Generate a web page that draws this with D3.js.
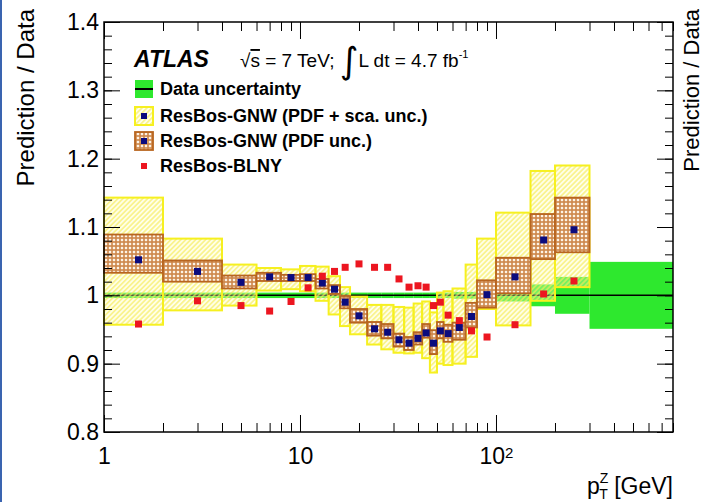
<!DOCTYPE html>
<html>
<head>
<meta charset="utf-8">
<script src="https://cdn.jsdelivr.net/npm/d3@7"></script>
<style>
  body { margin: 0; background: #fff; }
  svg { display: block; font-family: "Liberation Sans", Arial, Helvetica, sans-serif; }
</style>
</head>
<body>
<svg id="chart" width="705" height="502"></svg>
<script>
// pT bin edges [GeV] (first bin shown from 1)
const ptEdges = [1, 2, 4, 6, 8, 10, 12, 14, 16, 18, 22, 26, 30, 34, 38, 42, 46, 50, 54, 60, 70, 80, 100, 150, 200, 300, 800];

// ResBos-GNW / data, one value per bin up to 300 GeV
const gnw      = [1.052, 1.035, 1.019, 1.027, 1.026, 1.026, 1.018, 1.009, 0.990, 0.970, 0.951, 0.946, 0.935, 0.930, 0.937, 0.945, 0.930, 0.948, 0.944, 0.953, 0.969, 1.001, 1.027, 1.081, 1.096];
// PDF uncertainty band
const gnwPdfHi = [1.089, 1.051, 1.029, 1.033, 1.030, 1.031, 1.024, 1.015, 0.999, 0.980, 0.961, 0.958, 0.944, 0.939, 0.946, 0.958, 0.949, 0.961, 0.957, 0.960, 0.989, 1.022, 1.055, 1.119, 1.143];
const gnwPdfLo = [1.033, 1.020, 1.010, 1.021, 1.021, 1.021, 1.010, 1.002, 0.981, 0.960, 0.941, 0.937, 0.925, 0.920, 0.928, 0.938, 0.914, 0.937, 0.932, 0.935, 0.953, 0.982, 1.003, 1.053, 1.063];
// PDF + scale uncertainty band
const gnwTotHi = [1.143, 1.083, 1.045, 1.040, 1.038, 1.043, 1.042, 1.028, 1.012, 0.998, 0.986, 0.986, 0.983, 0.982, 0.988, 0.991, 0.975, 1.004, 1.006, 1.010, 1.045, 1.083, 1.121, 1.182, 1.190];
const gnwTotLo = [0.957, 0.978, 0.985, 1.007, 1.009, 1.006, 0.992, 0.972, 0.955, 0.943, 0.928, 0.921, 0.916, 0.915, 0.916, 0.908, 0.887, 0.900, 0.898, 0.900, 0.910, 0.980, 0.956, 0.992, 1.012];

// ResBos-BLNY / data
const blny = [0.958, 0.992, 0.985, 0.977, 0.991, 1.011, 1.028, 1.035, 1.041, 1.046, 1.041, 1.041, 1.024, 1.012, 1.014, 1.012, 0.985, 0.990, 0.971, 0.963, 0.948, 0.939, 0.957, 1.002, 1.021];

// relative data uncertainty per bin (all 26 bins)
const dataUnc = [0.004, 0.004, 0.004, 0.004, 0.004, 0.004, 0.004, 0.004, 0.004, 0.004, 0.004, 0.004, 0.004, 0.004, 0.004, 0.004, 0.004, 0.004, 0.004, 0.005, 0.005, 0.006, 0.009, 0.016, 0.027, 0.049];

const yMajor = [0.8, 0.9, 1.0, 1.1, 1.2, 1.3, 1.4];
const yLabels = ["0.8", "0.9", "1", "1.1", "1.2", "1.3", "1.4"];
const xMajor = [1, 10, 100];

const margin = { left: 104, top: 22 };
const width = 569, height = 410;

const svg = d3.select("#chart");
svg.append("rect").attr("width", 705).attr("height", 502).attr("fill", "#fff");
svg.append("rect").attr("x", 0).attr("y", 0).attr("width", 2).attr("height", 502).attr("fill", "#3a64b0");

const x = d3.scaleLog().domain([1, 800]).range([0, width]);
const y = d3.scaleLinear().domain([0.8, 1.4]).range([height, 0]);

// fill patterns (ROOT-like hatches)
const defs = svg.append("defs");
const hatch = defs.append("pattern").attr("id", "hatchY")
  .attr("patternUnits", "userSpaceOnUse").attr("width", 3.5).attr("height", 3.5)
  .attr("patternTransform", "rotate(45)");
hatch.append("rect").attr("width", 3.5).attr("height", 3.5).attr("fill", "rgba(255,255,190,0.35)");
hatch.append("line").attr("x1", 1.75).attr("y1", 0).attr("x2", 1.75).attr("y2", 3.5)
  .attr("stroke", "#f6ec5a").attr("stroke-width", 1.1);

const chk = defs.append("pattern").attr("id", "chkB")
  .attr("patternUnits", "userSpaceOnUse").attr("width", 4).attr("height", 4);
chk.append("rect").attr("width", 4).attr("height", 4).attr("fill", "#cd864a");
chk.append("rect").attr("x", 0.8).attr("y", 0.8).attr("width", 2.4).attr("height", 2.4).attr("fill", "#fdf3e6");

const g = svg.append("g").attr("transform", "translate(" + margin.left + "," + margin.top + ")");

const dataBins = dataUnc.map((u, i) => ({ lo: ptEdges[i], hi: ptEdges[i + 1], u: u }));
const bins = gnw.map((v, i) => ({
  lo: ptEdges[i], hi: ptEdges[i + 1], mid: (ptEdges[i] + ptEdges[i + 1]) / 2,
  v: v, pHi: gnwPdfHi[i], pLo: gnwPdfLo[i], tHi: gnwTotHi[i], tLo: gnwTotLo[i], b: blny[i]
}));

// data uncertainty
g.selectAll(".dat").data(dataBins).enter().append("rect")
  .attr("x", d => x(d.lo)).attr("width", d => x(d.hi) - x(d.lo))
  .attr("y", d => y(1 + d.u)).attr("height", d => y(1 - d.u) - y(1 + d.u))
  .attr("fill", "#2ee82e");

g.append("line")
  .attr("x1", x(1)).attr("x2", x(800)).attr("y1", y(1)).attr("y2", y(1))
  .attr("stroke", "#000").attr("stroke-width", 1.5);

// PDF + scale band
g.selectAll(".tot").data(bins).enter().append("rect")
  .attr("x", d => x(d.lo)).attr("width", d => x(d.hi) - x(d.lo))
  .attr("y", d => y(d.tHi)).attr("height", d => y(d.tLo) - y(d.tHi))
  .attr("fill", "url(#hatchY)").attr("stroke", "#f6f020").attr("stroke-width", 2);

// PDF band
g.selectAll(".pdf").data(bins).enter().append("rect")
  .attr("x", d => x(d.lo)).attr("width", d => x(d.hi) - x(d.lo))
  .attr("y", d => y(d.pHi)).attr("height", d => y(d.pLo) - y(d.pHi))
  .attr("fill", "url(#chkB)").attr("stroke", "#b8651f").attr("stroke-width", 1.8);

const ms = 7;
g.selectAll(".gnw").data(bins).enter().append("rect")
  .attr("x", d => x(d.mid) - ms / 2).attr("y", d => y(d.v) - ms / 2)
  .attr("width", ms).attr("height", ms).attr("fill", "#0b0b7e");

g.selectAll(".blny").data(bins).enter().append("rect")
  .attr("x", d => x(d.mid) - ms / 2).attr("y", d => y(d.b) - ms / 2)
  .attr("width", ms).attr("height", ms).attr("fill", "#ec1620");

// axes
const xMinor = [];
[1, 10, 100].forEach(dec => { for (let k = 2; k <= 9; k++) if (dec * k <= 800) xMinor.push(dec * k); });
const yMinor = d3.range(0, 31).map(i => 0.8 + i * 0.02);

function styleAxis(sel) {
  sel.select(".domain").remove();
  sel.selectAll("line").attr("stroke", "#000").attr("stroke-width", 1);
}

g.append("g").attr("transform", "translate(0," + height + ")")
  .call(d3.axisBottom(x).tickValues(xMinor).tickSize(-9).tickFormat(""))
  .call(styleAxis);
const xAx = g.append("g").attr("transform", "translate(0," + height + ")")
  .call(d3.axisBottom(x).tickValues(xMajor).tickSize(-17).tickPadding(16).tickFormat(d => d === 100 ? "10" : String(d)))
  .call(styleAxis);
xAx.selectAll("text").attr("font-size", 23).attr("fill", "#000")
  .attr("font-family", "Liberation Sans, Arial, sans-serif")
  .each(function (d) {
    if (d === 100) d3.select(this).append("tspan").attr("dy", "-0.45em").attr("font-size", 15).text("2");
  });

g.append("g").call(d3.axisTop(x).tickValues(xMinor).tickSize(-9).tickFormat("")).call(styleAxis);
g.append("g").call(d3.axisTop(x).tickValues(xMajor).tickSize(-17).tickFormat("")).call(styleAxis);

g.append("g").call(d3.axisLeft(y).tickValues(yMinor).tickSize(-8).tickFormat("")).call(styleAxis);
const yAx = g.append("g")
  .call(d3.axisLeft(y).tickValues(yMajor).tickSize(-16).tickPadding(5).tickFormat((d, i) => yLabels[i]))
  .call(styleAxis);
yAx.selectAll("text").attr("font-size", 23).attr("fill", "#000")
  .attr("font-family", "Liberation Sans, Arial, sans-serif");

g.append("g").attr("transform", "translate(" + width + ",0)")
  .call(d3.axisRight(y).tickValues(yMinor).tickSize(-8).tickFormat("")).call(styleAxis);
g.append("g").attr("transform", "translate(" + width + ",0)")
  .call(d3.axisRight(y).tickValues(yMajor).tickSize(-16).tickFormat("")).call(styleAxis);

g.append("rect").attr("width", width).attr("height", height)
  .attr("fill", "none").attr("stroke", "#000").attr("stroke-width", 1.5);

// axis titles
svg.append("text").attr("transform", "translate(34,9) rotate(-90)")
  .attr("text-anchor", "end").attr("font-size", 24).text("Prediction / Data");
svg.append("text").attr("transform", "translate(699,9) rotate(-90)")
  .attr("text-anchor", "end").attr("font-size", 22).text("Prediction / Data");

const xt = svg.append("text").attr("x", 673).attr("y", 494).attr("text-anchor", "end").attr("font-size", 23);
xt.append("tspan").text("p");
xt.append("tspan").attr("font-size", 14).attr("dy", -11).text("Z");
xt.append("tspan").attr("font-size", 14).attr("dx", -9).attr("dy", 16).text("T");
xt.append("tspan").attr("dy", -5).text(" [GeV]");

// ATLAS label
svg.append("text").attr("x", 134).attr("y", 67)
  .attr("font-size", 23).attr("font-weight", "bold").attr("font-style", "italic").text("ATLAS");

const lumi = svg.append("text").attr("x", 240).attr("y", 67).attr("font-size", 19);
lumi.append("tspan").text("\u221A");
lumi.append("tspan").style("text-decoration", "overline").text("s");
lumi.append("tspan").text(" = 7 TeV; ");
lumi.append("tspan").attr("font-family", "DejaVu Sans").attr("font-size", 36).attr("dy", 6).text("\u222B");
lumi.append("tspan").attr("font-size", 19).attr("dy", -6).text("L dt = 4.7 fb");
lumi.append("tspan").attr("font-size", 11).attr("dy", -9).text("-1");

// legend
const legRows = [
  { label: "Data uncertainty", y: 89, kind: "data" },
  { label: "ResBos-GNW (PDF + sca. unc.)", y: 116, kind: "tot" },
  { label: "ResBos-GNW (PDF unc.)", y: 141, kind: "pdf" },
  { label: "ResBos-BLNY", y: 166, kind: "blny" }
];
const leg = svg.append("g");
legRows.forEach(r => {
  const bx = 135, bw = 18, bh = 18;
  if (r.kind === "data") {
    leg.append("rect").attr("x", bx).attr("y", r.y - bh / 2).attr("width", bw).attr("height", bh).attr("fill", "#2ee82e");
    leg.append("line").attr("x1", bx).attr("x2", bx + bw).attr("y1", r.y).attr("y2", r.y).attr("stroke", "#000").attr("stroke-width", 2);
  } else if (r.kind === "tot") {
    leg.append("rect").attr("x", bx).attr("y", r.y - bh / 2).attr("width", bw).attr("height", bh)
      .attr("fill", "url(#hatchY)").attr("stroke", "#f6f020").attr("stroke-width", 2);
  } else if (r.kind === "pdf") {
    leg.append("rect").attr("x", bx).attr("y", r.y - bh / 2).attr("width", bw).attr("height", bh)
      .attr("fill", "url(#chkB)").attr("stroke", "#b8651f").attr("stroke-width", 1.8);
  }
  if (r.kind === "tot" || r.kind === "pdf") {
    leg.append("rect").attr("x", bx + bw / 2 - 3).attr("y", r.y - 3).attr("width", 6).attr("height", 6).attr("fill", "#0b0b7e");
  }
  if (r.kind === "blny") {
    leg.append("rect").attr("x", bx + bw / 2 - 3).attr("y", r.y - 3).attr("width", 6).attr("height", 6).attr("fill", "#ec1620");
  }
  leg.append("text").attr("x", 160).attr("y", r.y).attr("dy", "0.36em")
    .attr("font-size", 18).attr("font-weight", "bold").text(r.label);
});
</script>
</body>
</html>
